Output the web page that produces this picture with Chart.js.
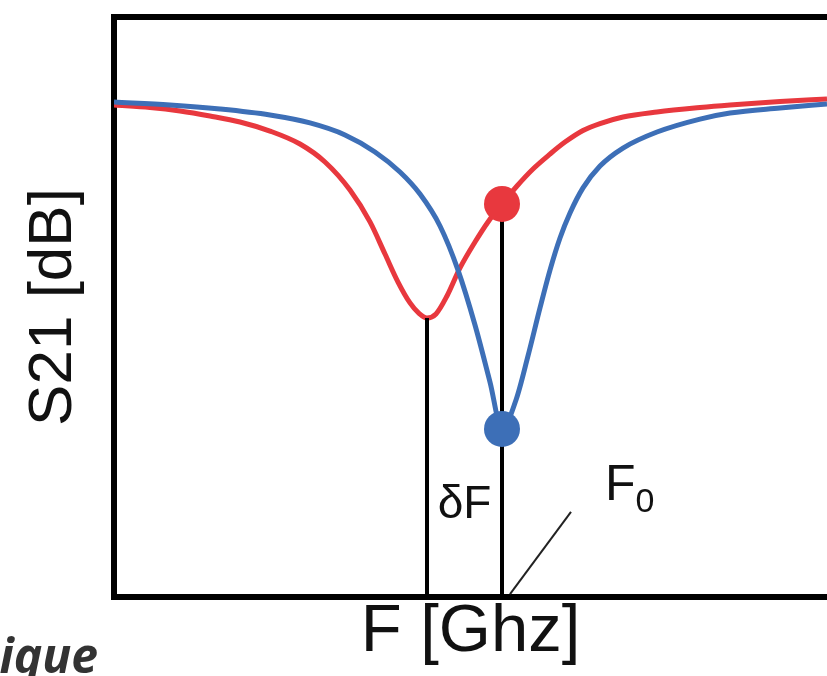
<!DOCTYPE html>
<html>
<head>
<meta charset="utf-8">
<script src="https://cdn.jsdelivr.net/npm/chart.js@4.4.1/dist/chart.umd.min.js"></script>
<style>
  html, body { margin: 0; padding: 0; background: #ffffff; }
  canvas { display: block; }
</style>
</head>
<body>
<canvas id="s21" width="827" height="676"></canvas>
<script>
// S21 transmission around the resonance: red = shifted dip, blue = reference dip at F0
const freqRed = [0.00, 0.36, 0.66, 0.96, 1.26, 1.56, 1.86, 2.11, 2.36, 2.56, 2.71, 2.84, 2.96, 3.05, 3.13, 3.22, 3.33, 3.46, 3.61, 3.74, 3.88, 4.03, 4.19, 4.36, 4.51, 4.69, 4.86, 5.09, 5.43, 5.86, 6.16, 6.66, 7.13];
const s21Red  = [-4.55, -4.68, -4.86, -5.12, -5.43, -5.90, -6.57, -7.50, -8.95, -10.60, -12.26, -13.71, -14.79, -15.33, -15.57, -15.36, -14.43, -12.98, -11.64, -10.60, -9.67, -8.74, -7.86, -7.09, -6.47, -5.87, -5.51, -5.17, -4.91, -4.68, -4.55, -4.37, -4.24];

const freqBlue = [0.00, 0.56, 1.06, 1.56, 1.96, 2.31, 2.61, 2.86, 3.06, 3.26, 3.44, 3.61, 3.76, 3.88, 4.02, 4.14, 4.26, 4.36, 4.46, 4.56, 4.69, 4.86, 5.09, 5.43, 5.86, 6.16, 6.66, 7.13];
const s21Blue  = [-4.40, -4.55, -4.76, -5.07, -5.48, -6.10, -6.98, -8.02, -9.16, -10.81, -13.09, -15.93, -18.88, -21.31, -19.81, -17.53, -15.05, -13.09, -11.43, -10.14, -8.84, -7.71, -6.78, -5.95, -5.28, -4.97, -4.71, -4.50];

// marker frequencies: shifted dip and F0
const dipFreq = 3.13;
const dipS21 = -15.57;
const f0 = 3.88;
const s21RedAtF0 = -9.67;
const s21BlueAtF0 = -21.31;

// leader line from the axis at F0 to the F0 label
const leaderFreq = [3.96, 4.57];
const leaderS21 = [-29.85, -25.6];

// axis ranges and titles
const freqRange = [0, 7.13];
const s21Range = [-30, 0];
const xTitle = 'F [Ghz]';
const yTitle = 'S21 [dB]';
const dipLabel = 'δF';
const f0Label = ['F', '0'];
const cornerText = 'ique';

const RED = '#e8383e';
const BLUE = '#3d6fb7';

const pts = (xs, ys) => xs.map((x, i) => ({ x: x, y: ys[i] }));

const labelsPlugin = {
  id: 'resonanceLabels',
  afterDatasetsDraw(chart) {
    const { ctx, scales } = chart;
    const xs = scales.x, ys = scales.y;
    ctx.save();
    ctx.fillStyle = '#111';
    ctx.textBaseline = 'alphabetic';

    // δF between the two marker lines
    ctx.font = "46px 'Liberation Sans', Arial, sans-serif";
    ctx.textAlign = 'center';
    const midX = (xs.getPixelForValue(dipFreq) + xs.getPixelForValue(f0)) / 2;
    ctx.fillText(dipLabel, midX, ys.getPixelForValue(-25.9));

    // F0 label with subscript
    const fx = xs.getPixelForValue(4.91);
    ctx.textAlign = 'left';
    ctx.font = "50px 'Liberation Sans', Arial, sans-serif";
    ctx.fillText(f0Label[0], fx, ys.getPixelForValue(-25.0));
    const w = ctx.measureText(f0Label[0]).width;
    ctx.font = "34px 'Liberation Sans', Arial, sans-serif";
    ctx.fillText(f0Label[1], fx + w, ys.getPixelForValue(-25.6));
    ctx.restore();

    // caption fragment at the lower left
    ctx.save();
    ctx.fillStyle = '#333333';
    ctx.font = "italic bold 48px 'Open Sans', sans-serif";
    ctx.textAlign = 'right';
    ctx.textBaseline = 'alphabetic';
    ctx.fillText(cornerText, 98, 673);
    ctx.restore();
  }
};

const hiddenTicks = { display: false };
const noGrid = { display: false, drawTicks: false };
const xTitleFont = { family: "'Liberation Sans', Arial, sans-serif", size: 67, lineHeight: 1.05 };
const yTitleFont = { family: "'Liberation Sans', Arial, sans-serif", size: 62, lineHeight: 1.1 };

new Chart(document.getElementById('s21'), {
  type: 'line',
  data: {
    datasets: [
      {
        label: 'F0 points',
        data: [{ x: f0, y: s21RedAtF0 }, { x: f0, y: s21BlueAtF0 }],
        showLine: false,
        pointRadius: 18,
        pointBackgroundColor: [RED, BLUE],
        pointBorderWidth: 0,
        order: 0
      },
      {
        label: 'δF marker',
        data: [{ x: dipFreq, y: dipS21 }, { x: dipFreq, y: s21Range[0] }],
        borderColor: '#000',
        borderWidth: 4,
        pointRadius: 0,
        order: 1
      },
      {
        label: 'F0 marker',
        data: [{ x: f0, y: s21RedAtF0 }, { x: f0, y: s21Range[0] }],
        borderColor: '#000',
        borderWidth: 4,
        pointRadius: 0,
        order: 1
      },
      {
        label: 'F0 leader',
        data: pts(leaderFreq, leaderS21),
        borderColor: '#222',
        borderWidth: 2,
        pointRadius: 0,
        order: 1
      },
      {
        label: 'S21 reference',
        data: pts(freqBlue, s21Blue),
        borderColor: BLUE,
        borderWidth: 5,
        pointRadius: 0,
        cubicInterpolationMode: 'monotone',
        order: 2
      },
      {
        label: 'S21 shifted',
        data: pts(freqRed, s21Red),
        borderColor: RED,
        borderWidth: 5,
        pointRadius: 0,
        cubicInterpolationMode: 'monotone',
        order: 3
      }
    ]
  },
  options: {
    responsive: false,
    animation: false,
    devicePixelRatio: 1,
    events: [],
    layout: { autoPadding: false, padding: { left: 0, top: 17, right: 0, bottom: 0.6 } },
    plugins: { legend: { display: false }, tooltip: { enabled: false } },
    scales: {
      x: {
        type: 'linear', position: 'bottom',
        min: freqRange[0], max: freqRange[1],
        ticks: hiddenTicks, grid: noGrid,
        border: { display: true, width: 6, color: '#000' },
        title: { display: true, text: xTitle, color: '#111', font: xTitleFont, padding: { top: 0.35, bottom: 7.7 } }
      },
      xTop: {
        type: 'linear', position: 'top',
        min: freqRange[0], max: freqRange[1],
        ticks: hiddenTicks, grid: noGrid,
        border: { display: true, width: 6, color: '#000' }
      },
      y: {
        type: 'linear', position: 'left',
        min: s21Range[0], max: s21Range[1],
        ticks: hiddenTicks, grid: noGrid,
        border: { display: true, width: 6, color: '#000' },
        title: { display: true, text: yTitle, color: '#111', font: yTitleFont, padding: { top: 19.4, bottom: 26.4 } }
      }
    }
  },
  plugins: [labelsPlugin]
});
</script>
</body>
</html>
